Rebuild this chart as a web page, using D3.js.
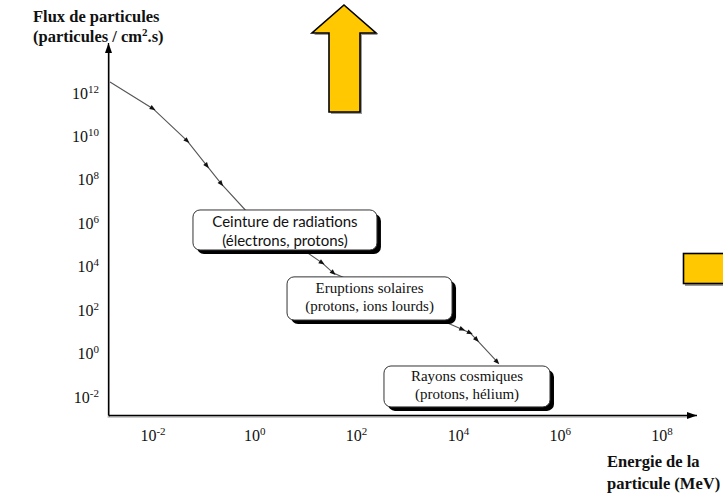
<!DOCTYPE html>
<html>
<head>
<meta charset="utf-8">
<script src="https://cdn.jsdelivr.net/npm/d3@7"></script>
<style>
  html, body { margin: 0; padding: 0; background: #fff; }
  svg { display: block; }
</style>
</head>
<body>
<svg id="chart" width="723" height="493"></svg>
<script>
// Particle flux spectrum (MeV, particles / cm².s)
const energyMeV = [1.43e-3, 0.01, 0.047, 0.115, 0.22, 0.65, 21, 35, 1.2e4, 1.7e4, 2.3e4, 5.8e4];
const fluxValues = [3.2e12, 1.9e11, 6.2e9, 4.4e8, 6.5e7, 4.1e6, 1.5e4, 5.1e3, 13, 8.9, 4.3, 0.41];
const markerShown = [false, true, true, true, true, false, true, true, true, true, true, true];

const xTickExponents = [-2, 0, 2, 4, 6, 8];
const yTickExponents = [12, 10, 8, 6, 4, 2, 0, -2];

// Source regions labelled on the spectrum (extent in energy and flux)
const regionLabels = [
  { lines: ["Ceinture de radiations", "(électrons, protons)"], energy: [0.061, 251], flux: [4.1e6, 5.9e4], sans: true },
  { lines: ["Eruptions solaires", "(protons, ions lourds)"], energy: [4.3, 7.5e3], flux: [3.4e3, 35], sans: false },
  { lines: ["Rayons cosmiques", "(protons, hélium)"], energy: [345, 6.3e5], flux: [0.268, 3.5e-3], sans: false }
];

const svg = d3.select("#chart");

const x = d3.scaleLog().domain([1e-2, 1e8]).range([153, 662]);
const y = d3.scaleLog().domain([1e-2, 1e12]).range([397, 93]);

const axisLeft = 108.5, axisBottom = 415.5;

// decorative arrows
const yellow = "#FFC800";
const bigArrow = [[344,5],[376,33],[360,33],[360,112],[329,112],[329,33],[312,33]];
svg.append("polygon")
  .attr("points", bigArrow.map(p => [p[0]+2, p[1]+2].join(",")).join(" "))
  .attr("fill", "#9a9a9a");
svg.append("polygon")
  .attr("points", bigArrow.map(p => p.join(",")).join(" "))
  .attr("fill", yellow).attr("stroke", "#000").attr("stroke-width", 1.6)
  .attr("stroke-linejoin", "miter");
svg.append("rect").attr("x", 685).attr("y", 255).attr("width", 60).attr("height", 31).attr("fill", "#9a9a9a");
svg.append("rect").attr("x", 683.5).attr("y", 253.5).attr("width", 60).attr("height", 30)
  .attr("fill", yellow).attr("stroke", "#000").attr("stroke-width", 1.6);

// axes with arrowheads
const defs = svg.append("defs");
defs.append("marker").attr("id", "axisHead")
  .attr("viewBox", "0 0 10 10").attr("refX", 10).attr("refY", 5)
  .attr("markerWidth", 10).attr("markerHeight", 10).attr("markerUnits", "userSpaceOnUse")
  .attr("orient", "auto")
  .append("path").attr("d", "M0,1.5 L10,5 L0,8.5 Z").attr("fill", "#000");

svg.append("line").attr("x1", axisLeft + 1).attr("y1", axisBottom + 1.5).attr("x2", axisLeft + 1).attr("y2", 52)
  .attr("stroke", "#999").attr("stroke-width", 1);
svg.append("line").attr("x1", axisLeft - 1).attr("y1", axisBottom + 1.5).attr("x2", 688).attr("y2", axisBottom + 1.5)
  .attr("stroke", "#999").attr("stroke-width", 1);
svg.append("line").attr("x1", axisLeft).attr("y1", axisBottom).attr("x2", axisLeft).attr("y2", 43)
  .attr("stroke", "#000").attr("stroke-width", 1.3).attr("marker-end", "url(#axisHead)");
svg.append("line").attr("x1", axisLeft).attr("y1", axisBottom).attr("x2", 697).attr("y2", axisBottom)
  .attr("stroke", "#000").attr("stroke-width", 1.3).attr("marker-end", "url(#axisHead)");

// tick labels: powers of ten
const serif = "Liberation Serif";
function powerLabel(g, exp) {
  const t = g.append("text").style("font-family", serif).attr("font-size", 16).attr("fill", "#111");
  t.append("tspan").text("10");
  t.append("tspan").attr("font-size", 11).attr("dy", -6).text(exp < 0 ? "-" + (-exp) : String(exp));
  return t;
}
const xLabels = svg.append("g");
xTickExponents.forEach(e => {
  powerLabel(xLabels, e).attr("x", x(Math.pow(10, e))).attr("y", 441).attr("text-anchor", "middle");
});
const yLabels = svg.append("g");
yTickExponents.forEach(e => {
  powerLabel(yLabels, e).attr("x", 99).attr("y", y(Math.pow(10, e)) + 5.5).attr("text-anchor", "end");
});

// axis titles
function boldTitle(t) {
  return t.style("font-family", serif).attr("font-weight", "bold").attr("font-size", 16.5).attr("fill", "#111");
}
const yTitle = boldTitle(svg.append("text").attr("x", 33).attr("y", 22));
yTitle.append("tspan").attr("x", 33).text("Flux de particules");
const yTitle2 = yTitle.append("tspan").attr("x", 33).attr("dy", 20);
yTitle2.append("tspan").text("(particules / cm");
yTitle2.append("tspan").attr("font-size", 11).attr("dy", -6).text("2");
yTitle2.append("tspan").attr("dy", 6).text(".s)");

const xTitle = boldTitle(svg.append("text").attr("x", 607).attr("y", 467));
xTitle.append("tspan").attr("x", 607).text("Energie de la");
xTitle.append("tspan").attr("x", 607).attr("dy", 22).text("particule (MeV)");

// spectrum line
const pts = energyMeV.map((e, i) => ({ e, f: fluxValues[i], m: markerShown[i] }));
svg.append("path")
  .attr("d", d3.line().x(d => x(d.e)).y(d => y(d.f))(pts))
  .attr("fill", "none").attr("stroke", "#555").attr("stroke-width", 1.1);

// small arrowhead markers along the spectrum
pts.forEach((d, i) => {
  if (!d.m) return;
  const prev = pts[i - 1];
  const ang = Math.atan2(y(d.f) - y(prev.f), x(d.e) - x(prev.e)) * 180 / Math.PI;
  svg.append("path")
    .attr("d", "M3,0 L-3,-2.4 L-3,2.4 Z")
    .attr("transform", `translate(${x(d.e)},${y(d.f)}) rotate(${ang})`)
    .attr("fill", "#111");
});

// region label boxes
regionLabels.forEach(r => {
  const x0 = x(r.energy[0]), x1 = x(r.energy[1]);
  const y0 = y(r.flux[0]), y1 = y(r.flux[1]);
  const g = svg.append("g");
  g.append("rect").attr("x", x0 + 4).attr("y", y0 + 4).attr("width", x1 - x0).attr("height", y1 - y0)
    .attr("rx", 7).attr("fill", "#000");
  g.append("rect").attr("x", x0).attr("y", y0).attr("width", x1 - x0).attr("height", y1 - y0)
    .attr("rx", 7).attr("fill", "#fff").attr("stroke", "#333").attr("stroke-width", 1);
  const cx = (x0 + x1) / 2, cy = (y0 + y1) / 2;
  const t = g.append("text").attr("text-anchor", "middle")
    .style("font-family", r.sans ? "Lato" : serif)
    .attr("font-size", 15).attr("fill", "#111");
  const dy = r.sans ? [-3, 16] : [-5, 13];
  t.append("tspan").attr("x", cx).attr("y", cy + dy[0]).text(r.lines[0]);
  t.append("tspan").attr("x", cx).attr("y", cy + dy[1]).text(r.lines[1]);
});
</script>
</body>
</html>
